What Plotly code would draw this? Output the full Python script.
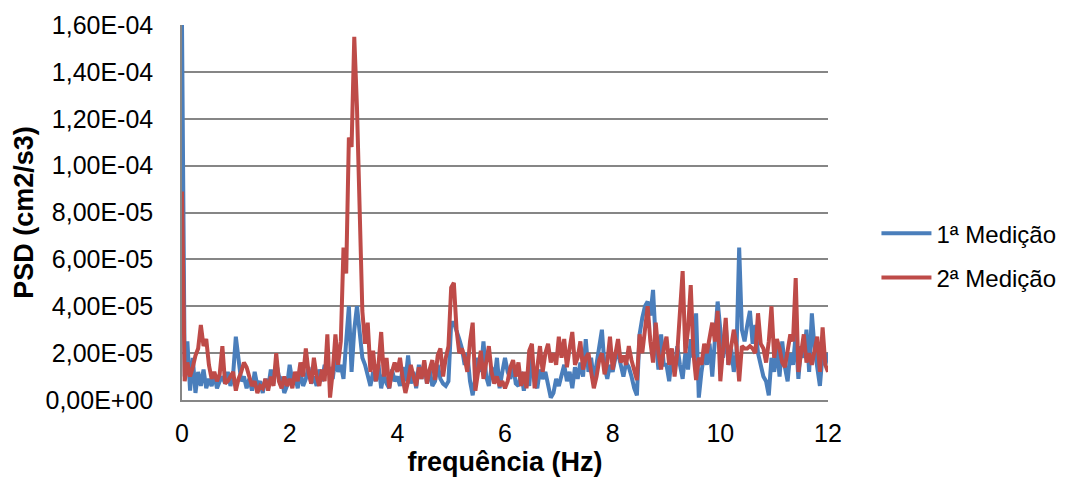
import plotly.graph_objects as go

# frequency axis (Hz), 0.05 Hz resolution
freq_hz = [round(i * 0.05, 2) for i in range(241)]

# PSD values in units of 1e-5 cm2/s3
psd_1a_e5 = [
    16.0, 1.0, 2.5, 0.4, 1.8, 0.3, 1.2, 0.6, 1.3, 0.5, 0.9, 0.6, 1.1, 0.5, 0.8, 1.0, 0.7, 1.2, 0.6, 1.1,
    2.7, 1.6, 0.8, 1.0, 0.5, 0.9, 0.4, 1.2, 0.6, 0.8, 0.3, 0.9, 0.5, 1.3, 0.7, 1.6, 1.0, 0.9, 0.3, 0.6,
    1.5, 0.8, 1.0, 0.5, 1.2, 0.6, 0.9, 1.4, 0.7, 1.0, 0.6, 1.3, 0.8, 1.5, 1.1, 1.4, 0.9, 1.8, 1.2, 1.5,
    0.9, 2.5, 4.0, 1.2, 3.0, 4.0, 2.8, 1.8, 1.5, 1.0, 0.6, 1.2, 0.8, 1.5, 0.5, 1.1, 0.7, 0.5, 1.3, 0.8,
    1.0, 0.6, 1.4, 0.8, 1.9, 0.7, 1.2, 0.5, 1.5, 0.9, 1.6, 0.7, 1.3, 0.6, 0.8, 1.5, 0.9, 0.7, 0.6, 0.8,
    3.3, 3.3, 3.0, 2.6, 2.2, 1.5, 2.0, 0.8, 0.2, 1.0, 1.8, 1.2, 2.5, 1.0, 0.6, 1.4, 0.8, 1.8, 0.5, 1.2,
    1.8, 1.2, 0.9, 1.5, 0.7, 0.6, 1.2, 0.4, 1.0, 0.6, 1.9, 0.8, 0.5, 1.3, 0.9, 1.2, 0.6, 0.1, 0.3, 0.9,
    0.6, 1.0, 1.5, 0.8, 1.2, 0.5, 1.4, 0.9, 1.6, 1.0, 2.6, 1.2, 1.8, 0.8, 1.5, 2.2, 3.0, 1.4, 0.9, 1.5,
    1.2, 1.8, 2.0, 1.5, 1.0, 1.6, 1.4, 1.0, 0.5, 0.2, 2.8, 3.5, 4.0, 4.2, 3.6, 4.7, 2.5, 1.3, 2.8, 1.5,
    1.5, 0.8, 1.9, 1.2, 2.3, 1.5, 0.9, 2.0, 1.3, 2.6, 1.8, 3.7, 0.1, 1.2, 2.0, 1.5, 2.4, 1.0, 2.5, 4.2,
    3.0, 1.8, 3.2, 1.5, 2.2, 1.2, 2.0, 6.5, 3.0, 2.5, 3.2, 3.8, 2.4, 3.2, 2.0, 1.5, 1.0, 0.8, 0.2, 1.8,
    1.2, 2.2, 1.0, 2.5, 1.4, 0.8, 2.0, 1.5, 2.8, 0.9, 2.3, 1.8, 3.0, 1.2, 3.7, 2.2, 1.4, 0.6, 2.0, 1.5,
    2.0,
]

psd_2a_e5 = [
    8.9, 0.8, 1.6, 1.0, 1.4, 1.9, 2.2, 3.2, 2.3, 2.6, 1.5, 0.9, 1.2, 0.8, 1.1, 2.3, 0.7, 0.8, 1.0, 1.2,
    0.4, 0.9, 1.2, 1.6, 1.4, 1.0, 0.6, 0.8, 0.3, 0.6, 0.5, 0.9, 0.4, 1.0, 0.6, 2.0, 0.8, 0.5, 1.0, 0.6,
    0.9, 0.5, 1.2, 0.8, 1.6, 1.0, 2.2, 1.2, 0.7, 1.8, 1.0, 0.6, 1.3, 0.8, 2.8, 0.1, 1.2, 2.8, 1.5, 2.5,
    6.5, 5.4, 11.2, 10.8, 15.5, 12.5, 7.5, 3.8, 2.4, 3.3, 1.2, 2.1, 0.8, 1.5, 2.9, 1.0, 1.8, 0.5, 1.2, 1.6,
    1.2, 1.8, 0.9, 0.3, 0.8, 1.5, 1.0, 0.6, 1.4, 0.9, 1.7, 0.7, 1.3, 1.7, 0.85, 1.9, 2.2, 1.0, 1.8, 2.3,
    4.8, 5.0, 3.0, 2.0, 2.2, 1.8, 1.2, 2.5, 3.3, 0.4, 1.2, 2.1, 0.9, 1.6, 2.3, 1.2, 0.7, 1.0, 0.6, 0.8,
    0.5, 0.8, 1.4, 1.7, 1.0, 1.6, 0.6, 1.2, 0.5, 2.1, 2.4, 0.5, 1.5, 2.3, 1.2, 2.0, 2.4, 1.6, 2.0, 1.5,
    2.7, 1.8, 2.6, 1.4, 2.2, 2.9, 1.5, 1.8, 2.5, 1.3, 1.8, 2.0, 1.2, 0.5, 1.0, 1.7, 2.0, 1.1, 1.6, 2.7,
    1.3, 2.0, 2.6, 1.6, 1.9, 1.5, 2.3, 1.7, 1.2, 0.85, 2.8, 2.0, 3.0, 4.0, 2.5, 1.6, 3.3, 2.0, 1.3, 2.2,
    2.7, 1.5, 2.2, 1.0, 2.0, 3.5, 5.5, 2.0, 3.0, 4.9, 2.0, 0.85, 1.8, 1.5, 2.4, 2.0, 2.8, 3.3, 2.5, 3.8,
    0.8, 2.2, 3.5, 1.5, 2.3, 3.0, 2.3, 0.8, 2.3, 2.2, 2.2, 2.3, 2.2, 2.0, 3.7, 2.4, 2.2, 1.6, 2.5, 4.0,
    1.8, 2.6, 2.2, 1.6, 1.4, 2.0, 2.8, 2.5, 5.2, 1.2, 2.0, 2.8, 1.6, 2.0, 1.5, 2.2, 2.7, 1.2, 3.1, 1.5,
    1.2,
]

series_names = ["1ª Medição", "2ª Medição"]
series_colors = ["#4A7EBB", "#BE4B48"]

y_tick_values = [0, 2e-5, 4e-5, 6e-5, 8e-5, 1e-4, 1.2e-4, 1.4e-4, 1.6e-4]
y_tick_labels = ["0,00E+00", "2,00E-05", "4,00E-05", "6,00E-05", "8,00E-05",
                 "1,00E-04", "1,20E-04", "1,40E-04", "1,60E-04"]
x_tick_values = [0, 2, 4, 6, 8, 10, 12]

fig = go.Figure()
for i, (name, color, vals) in enumerate(zip(series_names, series_colors, [psd_1a_e5, psd_2a_e5])):
    fig.add_trace(go.Scatter(
        x=freq_hz, y=[v * 1e-5 for v in vals], mode="lines", name=name,
        legendgroup=f"g{i}",
        line=dict(color=color, width=4),
    ))

font = "Liberation Sans, Arial, sans-serif"
fig.update_layout(
    width=1078, height=484,
    margin=dict(l=182, r=250, t=25, b=84),
    paper_bgcolor="white", plot_bgcolor="white",
    font=dict(family=font, size=25, color="black"),
    showlegend=True,
    legend=dict(x=1.075, y=0.385, xanchor="left", yanchor="middle",
                font=dict(size=24), itemwidth=50, traceorder="grouped", tracegroupgap=10,
                borderwidth=0),
    xaxis=dict(
        range=[0, 12], tickvals=x_tick_values, showgrid=False, zeroline=False,
        showline=True, linecolor="#868686", linewidth=1.5,
        ticks="", ticklabelstandoff=10,
        title=dict(text="<b>frequência (Hz)</b>", standoff=6, font=dict(size=27)),
    ),
    yaxis=dict(
        range=[0, 1.6e-4], tickvals=y_tick_values, ticktext=y_tick_labels,
        showgrid=True, gridcolor="#868686", gridwidth=1.5, zeroline=False,
        showline=True, linecolor="#868686", linewidth=1.5,
        ticks="", ticklabelstandoff=22,
        title=dict(text="<b>PSD (cm2/s3)</b>", standoff=4, font=dict(size=27)),
    ),
)

fig.write_html("out.html")
